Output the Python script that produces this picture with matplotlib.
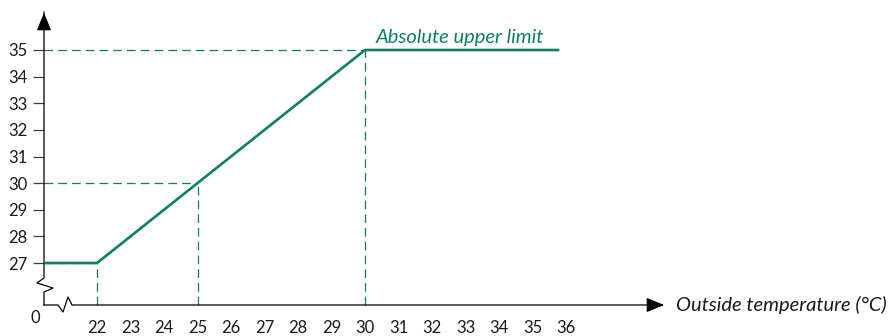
import matplotlib.pyplot as plt

# dados do gráfico
temp_ext = [20.42, 22, 25, 30, 35.8]
limite = [27, 27, 30, 35, 35]
y_ticks = [27, 28, 29, 30, 31, 32, 33, 34, 35]
x_ticks = list(range(22, 37))
guias = [(22, 27), (25, 30), (30, 35)]

VERDE = "#0e7f63"
FONTE = ["Lato", "DejaVu Sans"]

# escala em pixels (22 -> px 97, 35 -> px 50)
PX_X = 33.5
PX_Y = 26.625
x_min = 22 - 97 / PX_X
x_max = 22 + (892 - 97) / PX_X
y_min = 27 - (336 - 263) / PX_Y
y_max = 35 + 50 / PX_Y
x0 = 22 - (97 - 44) / PX_X      # origem do eixo (rotulo "0")
y0 = 27 - (305 - 263) / PX_Y


def dx(px):
    return px / PX_X


def dy(px):
    return px / PX_Y


fig = plt.figure(figsize=(8.92, 3.36), dpi=100)
ax = fig.add_axes([0, 0, 1, 1])
ax.set_xlim(x_min, x_max)
ax.set_ylim(y_min, y_max)
for s in ax.spines.values():
    s.set_visible(False)
ax.spines["left"].set_position(("data", x0))
ax.spines["bottom"].set_position(("data", y0))

# linhas guia tracejadas
for gx, gy in guias:
    ax.plot([x0, gx], [gy, gy], color=VERDE, lw=0.9, dashes=(7, 4))
    ax.plot([gx, gx], [y0, gy], color=VERDE, lw=0.9, dashes=(7, 4))

# curva do limite
ax.plot(temp_ext, limite, color=VERDE, lw=1.9, solid_capstyle="butt", zorder=3)

# eixo y com quebra
ax.plot([x0, x0, x0 - dx(7), x0 + dx(9), x0, x0],
        [y_max - dy(12), y0 + dy(27), y0 + dy(22), y0 + dy(17), y0 + dy(13), y0],
        color="black", lw=0.9)
# eixo x com quebra
ax.plot([x0, x0 + dx(14), x0 + dx(19), x0 + dx(24), x0 + dx(28), 22 + dx(555)],
        [y0, y0, y0 - dy(7), y0 + dy(8), y0, y0],
        color="black", lw=0.9)
ax.annotate("", xy=(x0, y_max - dy(10)), xytext=(x0, y_max - dy(26)),
            arrowprops=dict(arrowstyle="-|>,head_length=1.1,head_width=0.45",
                            color="black", lw=0.9))
ax.annotate("", xy=(22 + dx(570), y0), xytext=(22 + dx(554), y0),
            arrowprops=dict(arrowstyle="-|>,head_length=1.1,head_width=0.45",
                            color="black", lw=0.9))

ax.set_yticks(y_ticks)
ax.set_yticklabels([str(v) for v in y_ticks], fontfamily=FONTE, fontsize=12,
                   color="#1a1a1a")
ax.tick_params(axis="y", length=8, width=0.9, color="#404040", pad=4)
ax.set_xticks(x_ticks)
ax.set_xticklabels([str(v) for v in x_ticks], fontfamily=FONTE, fontsize=12,
                   color="#1a1a1a")
ax.tick_params(axis="x", length=0, pad=11)
ax.set_xticks([22], minor=True)
ax.tick_params(axis="x", which="minor", length=8, width=0.9, color="#404040")

ax.text(x0 - dx(9), y0 - dy(13), "0", fontfamily=FONTE, fontsize=12,
        color="#1a1a1a", ha="center", va="center")
ax.text(22 + dx(579), y0, "Outside temperature (°C)", fontfamily=FONTE,
        fontsize=14.5, style="italic", color="#1a1a1a", ha="left", va="center")
ax.text(30 + dx(11), 35 + dy(4), "Absolute upper limit", fontfamily=FONTE,
        fontsize=14.5, style="italic", color=VERDE, ha="left", va="bottom")

fig.savefig("out.png", dpi=100)
